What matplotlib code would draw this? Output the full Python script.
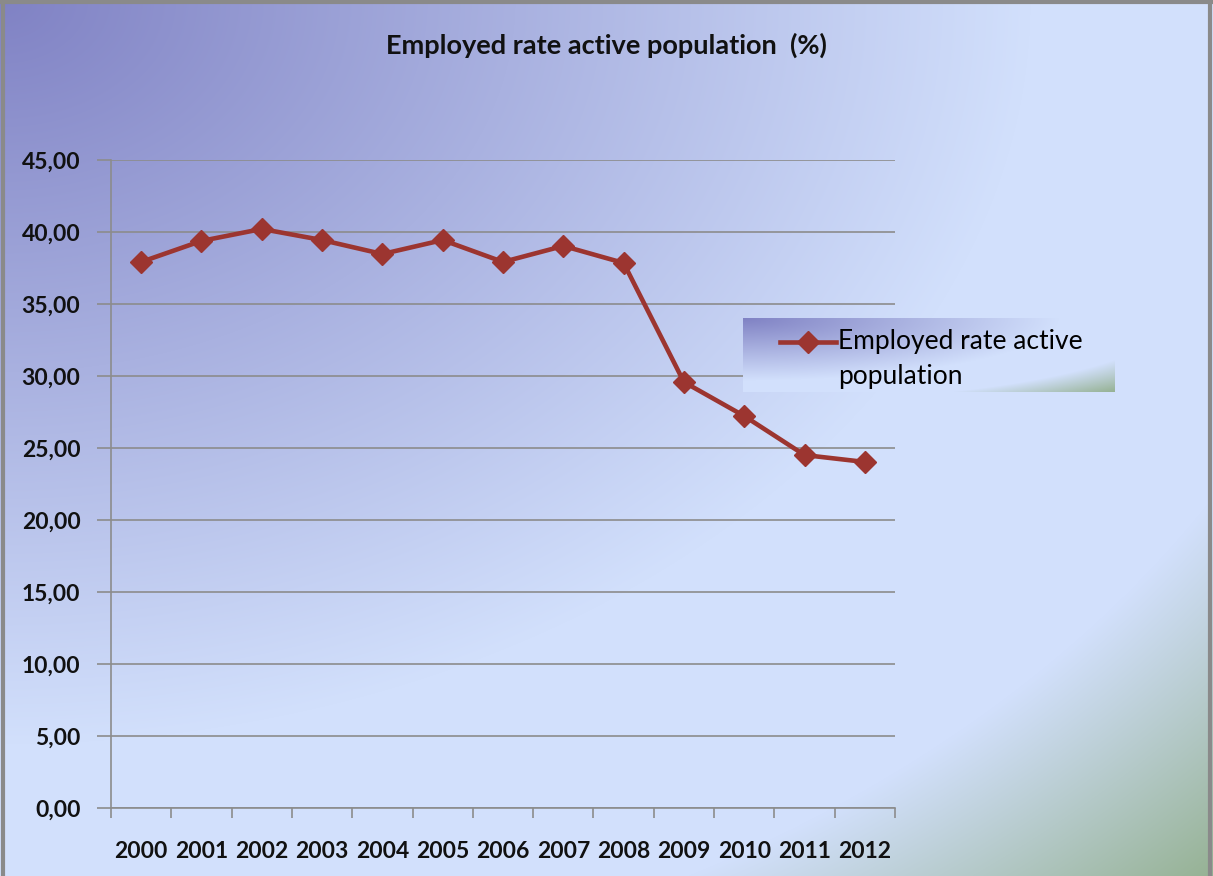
import numpy as np
import matplotlib
matplotlib.use('Agg')
import matplotlib.pyplot as plt
from matplotlib.ticker import FuncFormatter
from matplotlib.legend_handler import HandlerLine2D

years = ['2000', '2001', '2002', '2003', '2004', '2005', '2006',
         '2007', '2008', '2009', '2010', '2011', '2012']
rate = [37.92, 39.38, 40.21, 39.44, 38.47, 39.44, 37.92,
        39.03, 37.85, 29.58, 27.22, 24.51, 24.03]
series_name = 'Employed rate active\npopulation'
title = 'Employed rate active population  (%)'

W, H = 1213, 876
purple = np.array([128, 130, 196]) / 255
light = np.array([210, 224, 252]) / 255
green = np.array([150, 178, 148]) / 255


def gradient(w, h):
	u = np.linspace(0, 1, w)[None, :]
	v = np.linspace(0, 1, h)[:, None]
	r = np.sqrt(u**2 + v**2)
	t1 = np.clip(r / 0.85, 0, 1)[..., None]
	t2 = np.clip((r - 1.15) / (1.414 - 1.15), 0, 1)[..., None]
	img = purple + (light - purple) * t1
	img = img + (green - light) * t2
	return img


# put the legend marker on the first text line, like excel does
class FirstLineHandler(HandlerLine2D):
	def create_artists(self, legend, orig_handle, xdescent, ydescent,
	                   width, height, fontsize, trans):
		arts = super().create_artists(legend, orig_handle, xdescent, ydescent,
		                              width, height, fontsize, trans)
		for a in arts:
			a.set_ydata(np.asarray(a.get_ydata()) + 0.68 * fontsize)
		return arts


plt.rcParams['font.family'] = ['Lato', 'DejaVu Sans']

fig = plt.figure(figsize=(W / 100, H / 100), dpi=100)

bg = fig.add_axes([0, 0, 1, 1], zorder=-2)
bg.imshow(gradient(W, H), aspect='auto', extent=[0, W, H, 0])
bg.set_xlim(0, W)
bg.set_ylim(H, 0)
bg.axis('off')
# chart frame
bg.plot([3, 3], [0, H], color='#8a8a8a', lw=3)
bg.plot([0, W], [2, 2], color='#8a8a8a', lw=3)
bg.plot([W - 3, W - 3], [0, H], color='#8a8a8a', lw=3)

ax = fig.add_axes([111 / W, 1 - 808 / H, 784 / W, 648 / H], zorder=0)
ax.patch.set_alpha(0)
x = np.arange(len(years))
line, = ax.plot(x, rate, color='#9c3530', lw=3.3, marker='D', markersize=11,
                label=series_name, zorder=3)

ax.set_xlim(-0.5, len(years) - 0.5)
ax.set_ylim(0, 45)
ax.set_yticks(np.arange(0, 46, 5))
ax.yaxis.set_major_formatter(FuncFormatter(lambda v, p: ('%.2f' % v).replace('.', ',')))
ax.yaxis.grid(True, color='#8c8c8c', lw=1.2)
ax.set_axisbelow(True)

ax.set_xticks(x)
ax.set_xticklabels(years)
ax.set_xticks(np.arange(-0.5, len(years), 1), minor=True)
ax.tick_params(axis='x', which='major', length=0, pad=24)
ax.tick_params(axis='x', which='minor', length=7, color='#8c8c8c', width=1.2)
ax.tick_params(axis='y', length=10, color='#8c8c8c', width=1.2, pad=12)
for lab in ax.get_xticklabels() + ax.get_yticklabels():
	lab.set_fontsize(16.5)
	lab.set_fontweight('bold')
	lab.set_color('#111111')

for s in ['top', 'right']:
	ax.spines[s].set_visible(False)
for s in ['left', 'bottom']:
	ax.spines[s].set_color('#8c8c8c')
	ax.spines[s].set_linewidth(1.2)

fig.text(0.5, 1 - 45 / H, title, ha='center', va='center', fontsize=19.5,
         fontweight='bold', color='#111111')

# legend box with its own gradient
lx, ly, lw_, lh = 743, 318, 372, 74
lg = fig.add_axes([lx / W, 1 - (ly + lh) / H, lw_ / W, lh / H], zorder=1)
lg.imshow(gradient(lw_, lh), aspect='auto')
lg.axis('off')

leg = fig.legend(handles=[line], labels=[series_name], loc='upper left',
                 bbox_to_anchor=(763 / W, 1 - 312 / H), frameon=False,
                 fontsize=19, handlelength=2.1, handletextpad=0.1,
                 borderpad=0.15, labelspacing=0.2,
                 handler_map={line: FirstLineHandler()})
for t in leg.get_texts():
	t.set_linespacing(1.5)

fig.savefig('out.png', dpi=100)
